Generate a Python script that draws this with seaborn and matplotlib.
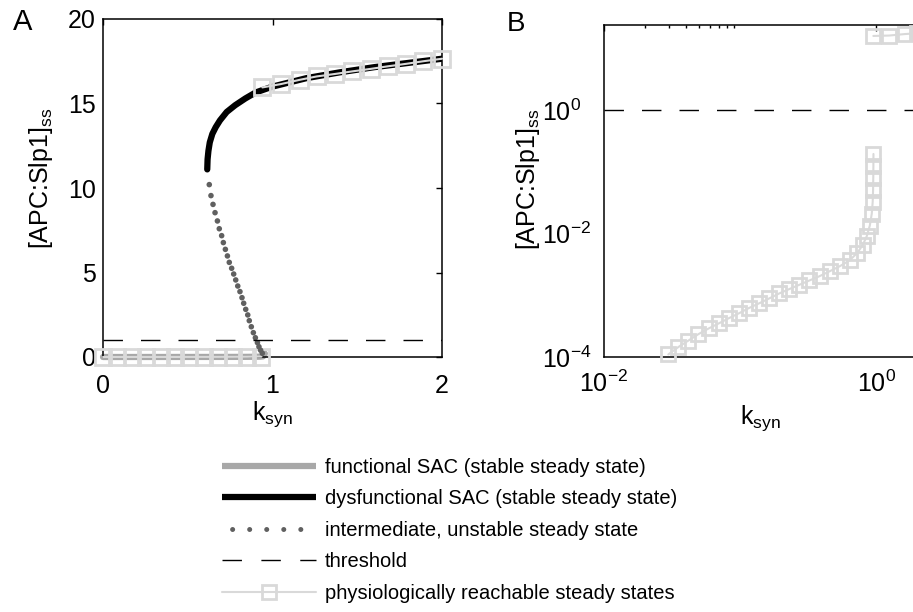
import matplotlib
matplotlib.use("Agg")
import seaborn as sns
import matplotlib.pyplot as plt
from matplotlib.lines import Line2D
from matplotlib.ticker import FixedLocator, NullFormatter, NullLocator

# values
func_k = [0.0, 0.1, 0.2, 0.3, 0.4, 0.5, 0.6, 0.7, 0.8, 0.85, 0.9, 0.93, 0.945, 0.955]
func_y = [0.0, 0.0005, 0.0011, 0.0017, 0.0022, 0.0029, 0.0037, 0.0047, 0.0065, 0.009, 0.0135, 0.021, 0.04, 0.2]

dys_k = [0.615, 0.617, 0.622, 0.63, 0.645, 0.665, 0.69, 0.73, 0.78, 0.84, 0.9, 1.0, 1.2, 1.4, 1.6, 1.8, 2.0]
dys_y = [11.1, 11.7, 12.2, 12.7, 13.2, 13.6, 14.0, 14.5, 14.9, 15.3, 15.65, 16.0, 16.5, 16.85, 17.15, 17.4, 17.65]

unst_k = [0.627, 0.637, 0.649, 0.661, 0.675, 0.686, 0.700, 0.710, 0.722, 0.734, 0.745, 0.759, 0.771,
          0.783, 0.795, 0.808, 0.820, 0.830, 0.842, 0.854, 0.863, 0.875, 0.887, 0.899, 0.911, 0.920,
          0.930, 0.940]
unst_y = [10.2, 9.55, 9.03, 8.54, 8.05, 7.59, 7.18, 6.77, 6.37, 5.98, 5.60, 5.25, 4.91,
          4.56, 4.20, 3.87, 3.51, 3.18, 2.82, 2.49, 2.15, 1.79, 1.44, 1.14, 0.85, 0.61,
          0.40, 0.22]

reach_lo_k = [0.0, 0.085, 0.17, 0.255, 0.34, 0.425, 0.51, 0.595, 0.68, 0.765, 0.85, 0.935]
reach_lo_y = [0.0, 0.0004, 0.0009, 0.0014, 0.0019, 0.0025, 0.0031, 0.0038, 0.0048, 0.0064, 0.0095, 0.022]
reach_hi_k = [0.94, 1.05, 1.16, 1.26, 1.37, 1.47, 1.58, 1.68, 1.79, 1.89, 2.0]
reach_hi_y = [15.95, 16.15, 16.4, 16.6, 16.75, 16.9, 17.05, 17.2, 17.35, 17.5, 17.65]

logB_lo_k = [0.0297, 0.0352, 0.0418, 0.0495, 0.0588, 0.0697, 0.0827, 0.0981, 0.116, 0.138,
             0.164, 0.194, 0.230, 0.273, 0.324, 0.384, 0.456, 0.540, 0.641, 0.730,
             0.800, 0.855, 0.90, 0.93, 0.945, 0.951, 0.954, 0.956, 0.957]
logB_lo_y = [1.1e-4, 1.45e-4, 1.85e-4, 2.35e-4, 2.9e-4, 3.5e-4, 4.25e-4, 5.1e-4, 6.2e-4, 7.4e-4,
             8.9e-4, 1.07e-3, 1.26e-3, 1.48e-3, 1.74e-3, 2.04e-3, 2.45e-3, 2.95e-3, 3.7e-3, 4.9e-3,
             6.6e-3, 9.1e-3, 0.0135, 0.021, 0.033, 0.051, 0.08, 0.125, 0.195]
logB_hi_k = [0.955, 1.25, 1.62, 2.0]
logB_hi_y = [15.95, 16.2, 17.1, 17.65]

threshold = 1.0

legend_labels = ["functional SAC (stable steady state)",
                 "dysfunctional SAC (stable steady state)",
                 "intermediate, unstable steady state",
                 "threshold",
                 "physiologically reachable steady states"]

FUNC = "#a8a8a8"
DOT = "#606060"
LIGHT = "#d9d9d9"
FS = 18
LW = 4.5

sns.set_theme(style="white")
plt.rcParams["font.family"] = ["Liberation Sans", "DejaVu Sans"]
plt.rcParams["mathtext.fontset"] = "custom"
plt.rcParams["mathtext.rm"] = "Liberation Sans"
plt.rcParams["mathtext.it"] = "Liberation Sans:italic"
for key in ["axes.edgecolor", "text.color", "axes.labelcolor", "xtick.color", "ytick.color"]:
    plt.rcParams[key] = "black"

fig = plt.figure(figsize=(9.13, 6.12), dpi=100)
axA = fig.add_axes([103 / 913, 1 - 357 / 612, 339 / 913, 338 / 612])
axB = fig.add_axes([604 / 913, 1 - 357 / 612, 313 / 913, 332 / 612])


def reach_kw(ms):
    return dict(color=LIGHT, lw=1.5, marker="s", ms=ms, mfc="none", mec=LIGHT, mew=2,
                clip_on=False, sort=False, estimator=None, legend=False, zorder=3)


# panel A
sns.lineplot(x=func_k, y=func_y, ax=axA, color=FUNC, lw=LW, sort=False, estimator=None,
             legend=False, zorder=2, clip_on=False)
sns.lineplot(x=dys_k, y=dys_y, ax=axA, color="black", lw=LW, sort=False, estimator=None,
             legend=False, zorder=2, solid_capstyle="round")
sns.lineplot(x=reach_lo_k, y=reach_lo_y, ax=axA, **reach_kw(11.5))
sns.lineplot(x=reach_hi_k, y=reach_hi_y, ax=axA, **reach_kw(11.5))
sns.scatterplot(x=unst_k, y=unst_y, ax=axA, color=DOT, s=16, edgecolor="none", zorder=4,
                legend=False)
axA.axhline(threshold, color="black", lw=1, dashes=(14, 13), zorder=5)

axA.set_xlim(0, 2)
axA.set_ylim(0, 20)
axA.set_xticks([0, 1, 2])
axA.set_yticks([0, 5, 10, 15, 20])
axA.tick_params(axis="both", direction="in", length=4, width=1, top=True, right=True,
                labelsize=FS)
axA.tick_params(axis="x", pad=12)
axA.tick_params(axis="y", pad=5)

# panel B
sns.lineplot(x=logB_lo_k, y=logB_lo_y, ax=axB, **reach_kw(10))
sns.lineplot(x=logB_hi_k, y=logB_hi_y, ax=axB, **reach_kw(10))
axB.axhline(threshold, color="black", lw=1, dashes=(14, 13), zorder=5)
axB.set_xscale("log")
axB.set_yscale("log")
axB.set_xlim(0.01, 2)
axB.set_ylim(1e-4, 24)
axB.set_xticks([1e-2, 1e0])
axB.set_yticks([1e-4, 1e-2, 1e0])
axB.xaxis.set_minor_locator(FixedLocator([0.02, 0.03, 0.04, 0.05, 0.06, 0.07, 0.08, 0.09]))
axB.xaxis.set_minor_formatter(NullFormatter())
axB.yaxis.set_minor_locator(NullLocator())
axB.tick_params(axis="both", which="both", direction="in", width=1, top=True, right=False,
                labelsize=FS)
axB.tick_params(which="major", length=4)
axB.tick_params(which="minor", length=2.5)
axB.tick_params(axis="x", pad=10)
axB.tick_params(axis="y", pad=45)
plt.setp(axB.get_yticklabels(), ha="left")

for ax in (axA, axB):
    for sp in ax.spines.values():
        sp.set_linewidth(1.1)
        sp.set_color("black")
    ax.set_xlabel(r"$\mathregular{k_{syn}}$", fontsize=FS)
    ax.set_ylabel(r"[APC:Slp1]$_{\mathregular{ss}}$", fontsize=FS)

axA.xaxis.set_label_coords(0.5, -0.125)
axA.yaxis.set_label_coords(-0.142, 0.53)
axB.xaxis.set_label_coords(0.5, -0.138)
axB.yaxis.set_label_coords(-0.198, 0.535)

fig.text(13 / 913, 1 - 30 / 612, "A", fontsize=21, va="baseline", ha="left")
fig.text(507 / 913, 1 - 31 / 612, "B", fontsize=20, va="baseline", ha="left")

handles = [
    Line2D([], [], color=FUNC, lw=LW, solid_capstyle="butt"),
    Line2D([], [], color="black", lw=LW, solid_capstyle="butt"),
    Line2D([], [], color=DOT, lw=3.6, linestyle=(1.39, (0.01, 3.4)), dash_capstyle="round"),
    Line2D([], [], color="black", lw=1, dashes=(14, 14)),
    Line2D([], [], color=LIGHT, lw=1.5, marker="s", ms=10, mfc="none", mec=LIGHT, mew=2),
]
fig.legend(handles, legend_labels, loc="upper left", bbox_to_anchor=(222 / 913, 1 - 458 / 612),
           frameon=False, fontsize=14.5, handlelength=4.67, handletextpad=0.45,
           labelspacing=0.62, borderpad=0, borderaxespad=0)

fig.savefig("out.png", dpi=100)
